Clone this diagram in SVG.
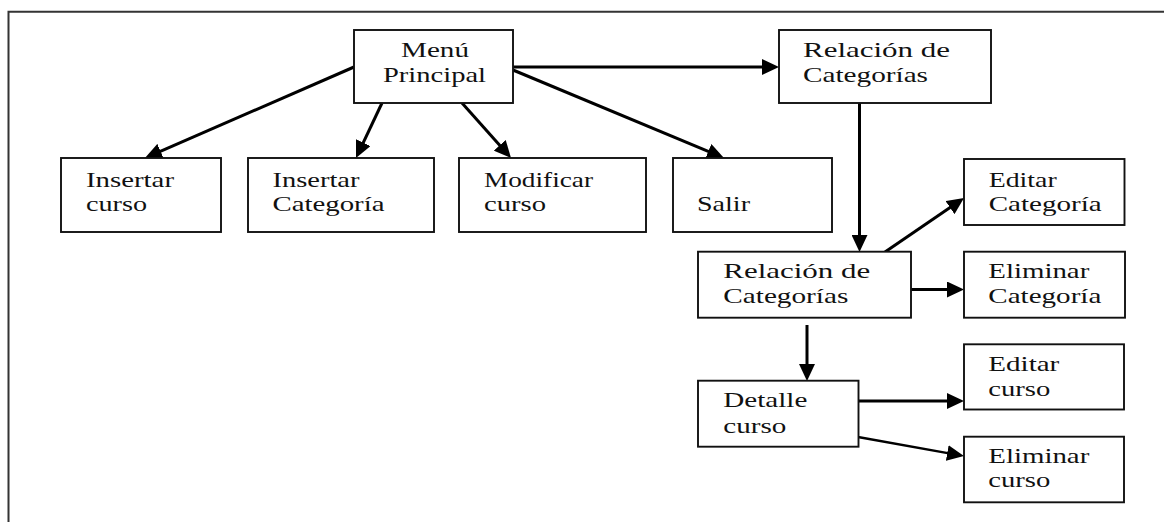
<svg xmlns="http://www.w3.org/2000/svg" width="1164" height="522" viewBox="0 0 1164 522">
  <style>
    .box { fill: #fff; stroke: #111; stroke-width: 1.9; }
    .lbl { font-family: 'Liberation Serif', 'DejaVu Serif', serif; font-size: 21.5px; fill: #111; }
    .edge { stroke: #000; stroke-width: 3; fill: none; marker-end: url(#head); }
    .thin { stroke-width: 2.3; }
    .frame { stroke: #333; stroke-width: 2; fill: none; }
  </style>
  <defs>
    <marker id="head" markerUnits="userSpaceOnUse" markerWidth="17" markerHeight="16" refX="9" refY="8" orient="auto">
      <path d="M0,0 L17,8 L0,16 z" fill="#000"/>
    </marker>
  </defs>
  <rect width="1164" height="522" fill="#fff"/>

  <!-- page frame -->
  <path class="frame" d="M8.5,522 L8.5,11.7 L1164,11.7"/>

  <!-- connectors: each line stops 8px short of the tip, the marker supplies the rest -->
  <g id="connectors">
    <line class="edge" x1="354" y1="67" x2="152.3" y2="154.8"/>
    <line class="edge" x1="382" y1="103" x2="359.4" y2="150.8"/>
    <line class="edge" x1="462" y1="103" x2="505.7" y2="152"/>
    <line class="edge" x1="513" y1="70" x2="716.6" y2="154.9"/>
    <line class="edge" x1="513" y1="67" x2="771" y2="67"/>
    <line class="edge" x1="859.5" y1="103" x2="859.5" y2="244"/>
    <line class="edge" x1="885" y1="252" x2="957.4" y2="202.5"/>
    <line class="edge" x1="911" y1="289.5" x2="956" y2="289.5"/>
    <line class="edge" x1="807" y1="325" x2="807" y2="373"/>
    <line class="edge" x1="858" y1="401" x2="956" y2="401"/>
    <line class="edge thin" x1="858" y1="437" x2="956.1" y2="454.6"/>
  </g>

  <g id="menu-principal">
    <rect class="box" x="354" y="30" width="159" height="73"/>
    <text class="lbl" x="401" y="56.7" textLength="68" lengthAdjust="spacingAndGlyphs">Menú</text>
    <text class="lbl" x="383" y="81.5" textLength="103" lengthAdjust="spacingAndGlyphs">Principal</text>
  </g>

  <g id="relacion-categorias-1">
    <rect class="box" x="779" y="30" width="212" height="73"/>
    <text class="lbl" x="803" y="57.3" textLength="147" lengthAdjust="spacingAndGlyphs">Relación  de</text>
    <text class="lbl" x="803" y="81.5" textLength="125" lengthAdjust="spacingAndGlyphs">Categorías</text>
  </g>

  <g id="insertar-curso">
    <rect class="box" x="61" y="158" width="160" height="74"/>
    <text class="lbl" x="86" y="186.5" textLength="88" lengthAdjust="spacingAndGlyphs">Insertar</text>
    <text class="lbl" x="86" y="210.5" textLength="61" lengthAdjust="spacingAndGlyphs">curso</text>
  </g>

  <g id="insertar-categoria">
    <rect class="box" x="248" y="158" width="186" height="74"/>
    <text class="lbl" x="272.5" y="186.5" textLength="87" lengthAdjust="spacingAndGlyphs">Insertar</text>
    <text class="lbl" x="272.5" y="210.5" textLength="112" lengthAdjust="spacingAndGlyphs">Categoría</text>
  </g>

  <g id="modificar-curso">
    <rect class="box" x="459" y="158" width="187" height="74"/>
    <text class="lbl" x="484" y="186.5" textLength="109" lengthAdjust="spacingAndGlyphs">Modificar</text>
    <text class="lbl" x="484" y="210.5" textLength="62" lengthAdjust="spacingAndGlyphs">curso</text>
  </g>

  <g id="salir">
    <rect class="box" x="673" y="158" width="159" height="74"/>
    <text class="lbl" x="697" y="210.7" textLength="53" lengthAdjust="spacingAndGlyphs">Salir</text>
  </g>

  <g id="editar-categoria">
    <rect class="box" x="964" y="159" width="160.5" height="66"/>
    <text class="lbl" x="988.7" y="187" textLength="68" lengthAdjust="spacingAndGlyphs">Editar</text>
    <text class="lbl" x="988.7" y="211" textLength="113" lengthAdjust="spacingAndGlyphs">Categoría</text>
  </g>

  <g id="relacion-categorias-2">
    <rect class="box" x="698" y="251.7" width="213" height="66"/>
    <text class="lbl" x="723.3" y="278.3" textLength="147" lengthAdjust="spacingAndGlyphs">Relación  de</text>
    <text class="lbl" x="723.3" y="302.7" textLength="125" lengthAdjust="spacingAndGlyphs">Categorías</text>
  </g>

  <g id="eliminar-categoria">
    <rect class="box" x="964" y="251.7" width="161" height="66"/>
    <text class="lbl" x="988.3" y="278.3" textLength="101" lengthAdjust="spacingAndGlyphs">Eliminar</text>
    <text class="lbl" x="988.3" y="302.7" textLength="113" lengthAdjust="spacingAndGlyphs">Categoría</text>
  </g>

  <g id="editar-curso">
    <rect class="box" x="964" y="344.3" width="160" height="65.2"/>
    <text class="lbl" x="988.3" y="370.7" textLength="71" lengthAdjust="spacingAndGlyphs">Editar</text>
    <text class="lbl" x="988.3" y="395.7" textLength="62" lengthAdjust="spacingAndGlyphs">curso</text>
  </g>

  <g id="detalle-curso">
    <rect class="box" x="698" y="380.7" width="160.5" height="66"/>
    <text class="lbl" x="723.3" y="406.7" textLength="84" lengthAdjust="spacingAndGlyphs">Detalle</text>
    <text class="lbl" x="723.3" y="432.7" textLength="63" lengthAdjust="spacingAndGlyphs">curso</text>
  </g>

  <g id="eliminar-curso">
    <rect class="box" x="964" y="436.7" width="160" height="65.6"/>
    <text class="lbl" x="988.3" y="462.7" textLength="101" lengthAdjust="spacingAndGlyphs">Eliminar</text>
    <text class="lbl" x="988.3" y="487.3" textLength="62" lengthAdjust="spacingAndGlyphs">curso</text>
  </g>
</svg>
